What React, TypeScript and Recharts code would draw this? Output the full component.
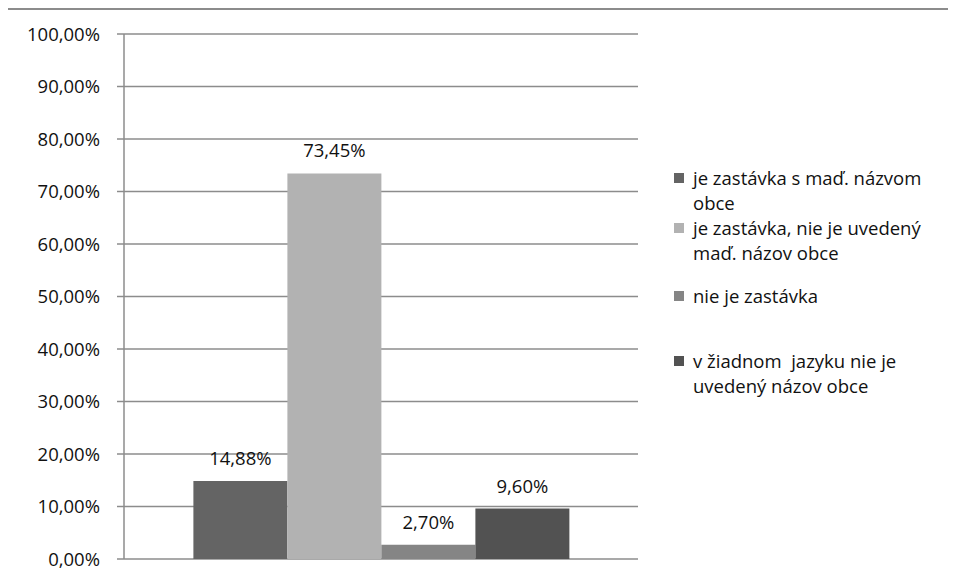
import { BarChart, Bar, XAxis, YAxis, CartesianGrid, LabelList } from "recharts";

const categories = ["Obce"];
const seriesKeys = ["s1", "s2", "s3", "s4"];
const seriesNames = [
  "je zastávka s maď. názvom obce",
  "je zastávka, nie je uvedený maď. názov obce",
  "nie je zastávka",
  "v žiadnom  jazyku nie je uvedený názov obce",
];
const legendLines = [
  ["je zastávka s maď. názvom", "obce"],
  ["je zastávka, nie je uvedený", "maď. názov obce"],
  ["nie je zastávka"],
  ["v žiadnom\u00a0 jazyku nie je", "uvedený názov obce"],
];
const seriesValues = [14.88, 73.45, 2.7, 9.6];
const seriesColors = ["#646464", "#b2b2b2", "#858585", "#525252"];
const yTicks = [0, 10, 20, 30, 40, 50, 60, 70, 80, 90, 100];

const data = categories.map((name) => {
  const row: Record<string, string | number> = { name };
  seriesKeys.forEach((k, i) => (row[k] = seriesValues[i]));
  return row;
});

const fmtPct = (v: number) => `${Number(v).toFixed(2).replace(".", ",")}%`;
const font = "'Open Sans', sans-serif";
const fs = 18.5;

const legendTops = [0, 50, 118, 183];

function LegendBox() {
  return (
    <div style={{ position: "absolute", left: 668, top: 157, fontFamily: font, fontSize: fs, color: "#111" }}>
      {legendLines.map((lines, i) => (
        <div key={i} title={seriesNames[i]} style={{ position: "absolute", top: legendTops[i], left: 0, whiteSpace: "nowrap" }}>
          {lines.map((ln, j) => (
            <div key={j} style={{ height: 25, lineHeight: "25px", display: "flex", alignItems: "center" }}>
              <span
                style={{
                  display: "inline-block",
                  width: 10,
                  height: 10,
                  marginRight: 9,
                  background: j === 0 ? seriesColors[i] : "transparent",
                }}
              />
              {ln}
            </div>
          ))}
        </div>
      ))}
    </div>
  );
}

export default function App() {
  return (
    <div style={{ position: "relative", marginLeft: -2, width: 948, height: 570, background: "#fff" }}>
      <div style={{ position: "absolute", left: 0, top: 0, width: 2, height: 572, background: "#8c8c8c" }} />
      <div style={{ position: "absolute", left: 0, top: 0, width: 948, height: 2, background: "#8c8c8c" }} />
      <div style={{ position: "absolute", left: 2, top: 1 }}>
        <BarChart
          width={944}
          height={568}
          data={data}
          margin={{ top: 25, right: 314, bottom: 18, left: 0 }}
          barGap={0}
          barCategoryGap="13.5%"
        >
          <CartesianGrid horizontal vertical={false} stroke="#8c8c8c" strokeWidth={1.5} />
          <XAxis dataKey="name" hide />
          <YAxis
            domain={[0, 100]}
            ticks={yTicks}
            width={116}
            tickFormatter={fmtPct}
            tickSize={7}
            tickMargin={17}
            interval={0}
            axisLine={{ stroke: "#8c8c8c", strokeWidth: 1.5 }}
            tickLine={{ stroke: "#8c8c8c", strokeWidth: 1.5 }}
            tick={{ fontSize: fs, fill: "#111", fontFamily: font }}
          />
          {seriesKeys.map((k, i) => (
            <Bar key={k} dataKey={k} name={seriesNames[i]} fill={seriesColors[i]} isAnimationActive={false}>
              <LabelList
                dataKey={k}
                position="top"
                offset={16}
                formatter={(v: number) => fmtPct(v)}
                style={{ fontSize: fs, fill: "#111", fontFamily: font }}
              />
            </Bar>
          ))}
        </BarChart>
      </div>
      <LegendBox />
    </div>
  );
}
